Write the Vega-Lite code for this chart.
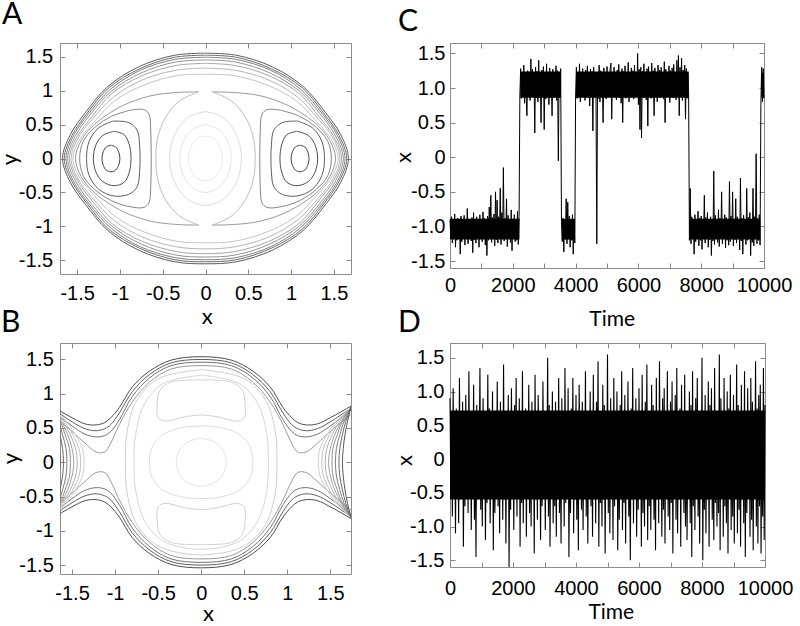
{
"$schema":"https://vega.github.io/schema/vega-lite/v6.json",
"autosize":{"type":"none"},
"padding":{"left":60,"top":43,"right":740,"bottom":583},
"background":"white",
"config":{
 "view":{"stroke":"#8c8c8c","strokeWidth":1},
 "axis":{"labelFont":"Liberation Sans","labelFontSize":20,"labelColor":"#000","tickColor":"#888","tickSize":-5,"tickWidth":1,"domain":false,"grid":false,"titleFont":"Lato","titleFontSize":22,"titleFontWeight":"normal","titleColor":"#000","titleBaseline":"alphabetic","labelFlush":false,"labelOverlap":false,"labelBound":false},
 "title":{"font":"Lato","fontSize":30,"fontWeight":"normal","anchor":"start","frame":"group","color":"#000"}
},
"datasets":{
"a":[
{"c":"k1","x":0,"y":1.55},{"c":"k1","x":-0.36,"y":1.52},{"c":"k1","x":-0.78,"y":1.35},{"c":"k1","x":-1.14,"y":1.06},{"c":"k1","x":-1.4,"y":0.68},{"c":"k1","x":-1.58,"y":0.35},{"c":"k1","x":-1.67,"y":0},{"c":"k1","x":-1.58,"y":-0.35},{"c":"k1","x":-1.4,"y":-0.68},{"c":"k1","x":-1.14,"y":-1.06},{"c":"k1","x":-0.78,"y":-1.35},{"c":"k1","x":-0.36,"y":-1.52},{"c":"k1","x":0,"y":-1.55},{"c":"k1","x":0.36,"y":-1.52},{"c":"k1","x":0.78,"y":-1.35},{"c":"k1","x":1.14,"y":-1.06},{"c":"k1","x":1.4,"y":-0.68},{"c":"k1","x":1.58,"y":-0.35},{"c":"k1","x":1.67,"y":0},{"c":"k1","x":1.58,"y":0.35},{"c":"k1","x":1.4,"y":0.68},{"c":"k1","x":1.14,"y":1.06},{"c":"k1","x":0.78,"y":1.35},{"c":"k1","x":0.36,"y":1.52},{"c":"k1","x":0,"y":1.55},
{"c":"k2","x":0,"y":1.52},{"c":"k2","x":-0.36,"y":1.49},{"c":"k2","x":-0.77,"y":1.32},{"c":"k2","x":-1.13,"y":1.04},{"c":"k2","x":-1.38,"y":0.67},{"c":"k2","x":-1.56,"y":0.34},{"c":"k2","x":-1.65,"y":0},{"c":"k2","x":-1.56,"y":-0.34},{"c":"k2","x":-1.38,"y":-0.67},{"c":"k2","x":-1.13,"y":-1.04},{"c":"k2","x":-0.77,"y":-1.32},{"c":"k2","x":-0.36,"y":-1.49},{"c":"k2","x":0,"y":-1.52},{"c":"k2","x":0.36,"y":-1.49},{"c":"k2","x":0.77,"y":-1.32},{"c":"k2","x":1.13,"y":-1.04},{"c":"k2","x":1.38,"y":-0.67},{"c":"k2","x":1.56,"y":-0.34},{"c":"k2","x":1.65,"y":0},{"c":"k2","x":1.56,"y":0.34},{"c":"k2","x":1.38,"y":0.67},{"c":"k2","x":1.13,"y":1.04},{"c":"k2","x":0.77,"y":1.32},{"c":"k2","x":0.36,"y":1.49},{"c":"k2","x":0,"y":1.52},
{"c":"k3","x":0,"y":1.49},{"c":"k3","x":-0.35,"y":1.46},{"c":"k3","x":-0.76,"y":1.3},{"c":"k3","x":-1.11,"y":1.02},{"c":"k3","x":-1.37,"y":0.65},{"c":"k3","x":-1.54,"y":0.34},{"c":"k3","x":-1.63,"y":0},{"c":"k3","x":-1.54,"y":-0.34},{"c":"k3","x":-1.37,"y":-0.65},{"c":"k3","x":-1.11,"y":-1.02},{"c":"k3","x":-0.76,"y":-1.3},{"c":"k3","x":-0.35,"y":-1.46},{"c":"k3","x":0,"y":-1.49},{"c":"k3","x":0.35,"y":-1.46},{"c":"k3","x":0.76,"y":-1.3},{"c":"k3","x":1.11,"y":-1.02},{"c":"k3","x":1.37,"y":-0.65},{"c":"k3","x":1.54,"y":-0.34},{"c":"k3","x":1.63,"y":0},{"c":"k3","x":1.54,"y":0.34},{"c":"k3","x":1.37,"y":0.65},{"c":"k3","x":1.11,"y":1.02},{"c":"k3","x":0.76,"y":1.3},{"c":"k3","x":0.35,"y":1.46},{"c":"k3","x":0,"y":1.49},
{"c":"k4","x":0,"y":1.45},{"c":"k4","x":-0.35,"y":1.42},{"c":"k4","x":-0.75,"y":1.26},{"c":"k4","x":-1.1,"y":0.99},{"c":"k4","x":-1.35,"y":0.64},{"c":"k4","x":-1.52,"y":0.33},{"c":"k4","x":-1.61,"y":0},{"c":"k4","x":-1.52,"y":-0.33},{"c":"k4","x":-1.35,"y":-0.64},{"c":"k4","x":-1.1,"y":-0.99},{"c":"k4","x":-0.75,"y":-1.26},{"c":"k4","x":-0.35,"y":-1.42},{"c":"k4","x":0,"y":-1.45},{"c":"k4","x":0.35,"y":-1.42},{"c":"k4","x":0.75,"y":-1.26},{"c":"k4","x":1.1,"y":-0.99},{"c":"k4","x":1.35,"y":-0.64},{"c":"k4","x":1.52,"y":-0.33},{"c":"k4","x":1.61,"y":0},{"c":"k4","x":1.52,"y":0.33},{"c":"k4","x":1.35,"y":0.64},{"c":"k4","x":1.1,"y":0.99},{"c":"k4","x":0.75,"y":1.26},{"c":"k4","x":0.35,"y":1.42},{"c":"k4","x":0,"y":1.45},
{"c":"k5","x":0,"y":1.4},{"c":"k5","x":-0.34,"y":1.37},{"c":"k5","x":-0.74,"y":1.22},{"c":"k5","x":-1.09,"y":0.96},{"c":"k5","x":-1.33,"y":0.61},{"c":"k5","x":-1.5,"y":0.32},{"c":"k5","x":-1.59,"y":0},{"c":"k5","x":-1.5,"y":-0.32},{"c":"k5","x":-1.33,"y":-0.61},{"c":"k5","x":-1.09,"y":-0.96},{"c":"k5","x":-0.74,"y":-1.22},{"c":"k5","x":-0.34,"y":-1.37},{"c":"k5","x":0,"y":-1.4},{"c":"k5","x":0.34,"y":-1.37},{"c":"k5","x":0.74,"y":-1.22},{"c":"k5","x":1.09,"y":-0.96},{"c":"k5","x":1.33,"y":-0.61},{"c":"k5","x":1.5,"y":-0.32},{"c":"k5","x":1.59,"y":0},{"c":"k5","x":1.5,"y":0.32},{"c":"k5","x":1.33,"y":0.61},{"c":"k5","x":1.09,"y":0.96},{"c":"k5","x":0.74,"y":1.22},{"c":"k5","x":0.34,"y":1.37},{"c":"k5","x":0,"y":1.4},
{"c":"k6","x":0,"y":1.33},{"c":"k6","x":-0.34,"y":1.3},{"c":"k6","x":-0.73,"y":1.16},{"c":"k6","x":-1.07,"y":0.91},{"c":"k6","x":-1.32,"y":0.58},{"c":"k6","x":-1.49,"y":0.3},{"c":"k6","x":-1.57,"y":0},{"c":"k6","x":-1.49,"y":-0.3},{"c":"k6","x":-1.32,"y":-0.58},{"c":"k6","x":-1.07,"y":-0.91},{"c":"k6","x":-0.73,"y":-1.16},{"c":"k6","x":-0.34,"y":-1.3},{"c":"k6","x":0,"y":-1.33},{"c":"k6","x":0.34,"y":-1.3},{"c":"k6","x":0.73,"y":-1.16},{"c":"k6","x":1.07,"y":-0.91},{"c":"k6","x":1.32,"y":-0.58},{"c":"k6","x":1.49,"y":-0.3},{"c":"k6","x":1.57,"y":0},{"c":"k6","x":1.49,"y":0.3},{"c":"k6","x":1.32,"y":0.58},{"c":"k6","x":1.07,"y":0.91},{"c":"k6","x":0.73,"y":1.16},{"c":"k6","x":0.34,"y":1.3},{"c":"k6","x":0,"y":1.33},
{"c":"k7","x":0,"y":1.24},{"c":"k7","x":-0.33,"y":1.22},{"c":"k7","x":-0.72,"y":1.08},{"c":"k7","x":-1.06,"y":0.85},{"c":"k7","x":-1.3,"y":0.54},{"c":"k7","x":-1.47,"y":0.28},{"c":"k7","x":-1.55,"y":0},{"c":"k7","x":-1.47,"y":-0.28},{"c":"k7","x":-1.3,"y":-0.54},{"c":"k7","x":-1.06,"y":-0.85},{"c":"k7","x":-0.72,"y":-1.08},{"c":"k7","x":-0.33,"y":-1.22},{"c":"k7","x":0,"y":-1.24},{"c":"k7","x":0.33,"y":-1.22},{"c":"k7","x":0.72,"y":-1.08},{"c":"k7","x":1.06,"y":-0.85},{"c":"k7","x":1.3,"y":-0.54},{"c":"k7","x":1.47,"y":-0.28},{"c":"k7","x":1.55,"y":0},{"c":"k7","x":1.47,"y":0.28},{"c":"k7","x":1.3,"y":0.54},{"c":"k7","x":1.06,"y":0.85},{"c":"k7","x":0.72,"y":1.08},{"c":"k7","x":0.33,"y":1.22},{"c":"k7","x":0,"y":1.24},
{"c":"sR","x":0.08,"y":0.98},{"c":"sR","x":0.35,"y":0.97},{"c":"sR","x":0.65,"y":0.92},{"c":"sR","x":0.98,"y":0.77},{"c":"sR","x":1.3,"y":0.5},{"c":"sR","x":1.45,"y":0.27},{"c":"sR","x":1.52,"y":0},{"c":"sR","x":1.45,"y":-0.27},{"c":"sR","x":1.3,"y":-0.5},{"c":"sR","x":0.98,"y":-0.77},{"c":"sR","x":0.65,"y":-0.92},{"c":"sR","x":0.35,"y":-0.97},{"c":"sR","x":0.08,"y":-0.98},
{"c":"sL","x":-0.08,"y":0.98},{"c":"sL","x":-0.35,"y":0.97},{"c":"sL","x":-0.65,"y":0.92},{"c":"sL","x":-0.98,"y":0.77},{"c":"sL","x":-1.3,"y":0.5},{"c":"sL","x":-1.45,"y":0.27},{"c":"sL","x":-1.52,"y":0},{"c":"sL","x":-1.45,"y":-0.27},{"c":"sL","x":-1.3,"y":-0.5},{"c":"sL","x":-0.98,"y":-0.77},{"c":"sL","x":-0.65,"y":-0.92},{"c":"sL","x":-0.35,"y":-0.97},{"c":"sL","x":-0.08,"y":-0.98},
{"c":"nR","x":0.08,"y":0.98},{"c":"nR","x":0.3,"y":0.85},{"c":"nR","x":0.47,"y":0.6},{"c":"nR","x":0.56,"y":0.3},{"c":"nR","x":0.58,"y":0},{"c":"nR","x":0.56,"y":-0.3},{"c":"nR","x":0.47,"y":-0.6},{"c":"nR","x":0.3,"y":-0.85},{"c":"nR","x":0.08,"y":-0.98},
{"c":"nL","x":-0.08,"y":0.98},{"c":"nL","x":-0.3,"y":0.85},{"c":"nL","x":-0.47,"y":0.6},{"c":"nL","x":-0.56,"y":0.3},{"c":"nL","x":-0.58,"y":0},{"c":"nL","x":-0.56,"y":-0.3},{"c":"nL","x":-0.47,"y":-0.6},{"c":"nL","x":-0.3,"y":-0.85},{"c":"nL","x":-0.08,"y":-0.98},
{"c":"e1","x":0,"y":0.69},{"c":"e1","x":-0.21,"y":0.6},{"c":"e1","x":-0.36,"y":0.35},{"c":"e1","x":-0.42,"y":0},{"c":"e1","x":-0.36,"y":-0.35},{"c":"e1","x":-0.21,"y":-0.6},{"c":"e1","x":0,"y":-0.69},{"c":"e1","x":0.21,"y":-0.6},{"c":"e1","x":0.36,"y":-0.35},{"c":"e1","x":0.42,"y":0},{"c":"e1","x":0.36,"y":0.35},{"c":"e1","x":0.21,"y":0.6},{"c":"e1","x":0,"y":0.69},
{"c":"e2","x":0,"y":0.5},{"c":"e2","x":-0.15,"y":0.43},{"c":"e2","x":-0.26,"y":0.25},{"c":"e2","x":-0.3,"y":0},{"c":"e2","x":-0.26,"y":-0.25},{"c":"e2","x":-0.15,"y":-0.43},{"c":"e2","x":0,"y":-0.5},{"c":"e2","x":0.15,"y":-0.43},{"c":"e2","x":0.26,"y":-0.25},{"c":"e2","x":0.3,"y":0},{"c":"e2","x":0.26,"y":0.25},{"c":"e2","x":0.15,"y":0.43},{"c":"e2","x":0,"y":0.5},
{"c":"e3","x":0,"y":0.33},{"c":"e3","x":-0.1,"y":0.29},{"c":"e3","x":-0.17,"y":0.17},{"c":"e3","x":-0.2,"y":0},{"c":"e3","x":-0.17,"y":-0.17},{"c":"e3","x":-0.1,"y":-0.29},{"c":"e3","x":0,"y":-0.33},{"c":"e3","x":0.1,"y":-0.29},{"c":"e3","x":0.17,"y":-0.17},{"c":"e3","x":0.2,"y":0},{"c":"e3","x":0.17,"y":0.17},{"c":"e3","x":0.1,"y":0.29},{"c":"e3","x":0,"y":0.33},
{"c":"w1R","x":1.105,"y":0.195},{"c":"w1R","x":1.05,"y":0.17},{"c":"w1R","x":1.015,"y":0.1},{"c":"w1R","x":1.0,"y":0},{"c":"w1R","x":1.015,"y":-0.1},{"c":"w1R","x":1.05,"y":-0.17},{"c":"w1R","x":1.105,"y":-0.195},{"c":"w1R","x":1.16,"y":-0.17},{"c":"w1R","x":1.195,"y":-0.1},{"c":"w1R","x":1.21,"y":0},{"c":"w1R","x":1.195,"y":0.1},{"c":"w1R","x":1.16,"y":0.17},{"c":"w1R","x":1.105,"y":0.195},
{"c":"w2R","x":1.07,"y":0.4},{"c":"w2R","x":0.95,"y":0.35},{"c":"w2R","x":0.89,"y":0.2},{"c":"w2R","x":0.87,"y":0},{"c":"w2R","x":0.89,"y":-0.2},{"c":"w2R","x":0.95,"y":-0.35},{"c":"w2R","x":1.07,"y":-0.4},{"c":"w2R","x":1.2,"y":-0.34},{"c":"w2R","x":1.28,"y":-0.2},{"c":"w2R","x":1.31,"y":0},{"c":"w2R","x":1.28,"y":0.2},{"c":"w2R","x":1.2,"y":0.34},{"c":"w2R","x":1.07,"y":0.4},
{"c":"w3R","x":1.08,"y":0.55},{"c":"w3R","x":0.9,"y":0.53},{"c":"w3R","x":0.8,"y":0.42},{"c":"w3R","x":0.77,"y":0.2},{"c":"w3R","x":0.77,"y":-0.2},{"c":"w3R","x":0.8,"y":-0.42},{"c":"w3R","x":0.9,"y":-0.53},{"c":"w3R","x":1.08,"y":-0.55},{"c":"w3R","x":1.25,"y":-0.45},{"c":"w3R","x":1.36,"y":-0.25},{"c":"w3R","x":1.39,"y":0},{"c":"w3R","x":1.36,"y":0.25},{"c":"w3R","x":1.25,"y":0.45},{"c":"w3R","x":1.08,"y":0.55},
{"c":"w4R","x":0.88,"y":0.71},{"c":"w4R","x":0.72,"y":0.72},{"c":"w4R","x":0.66,"y":0.65},{"c":"w4R","x":0.64,"y":0.4},{"c":"w4R","x":0.64,"y":-0.4},{"c":"w4R","x":0.66,"y":-0.65},{"c":"w4R","x":0.72,"y":-0.72},{"c":"w4R","x":0.88,"y":-0.71},{"c":"w4R","x":1.1,"y":-0.62},{"c":"w4R","x":1.3,"y":-0.45},{"c":"w4R","x":1.43,"y":-0.25},{"c":"w4R","x":1.47,"y":0},{"c":"w4R","x":1.43,"y":0.25},{"c":"w4R","x":1.3,"y":0.45},{"c":"w4R","x":1.1,"y":0.62},{"c":"w4R","x":0.88,"y":0.71},
{"c":"w1L","x":-1.105,"y":0.195},{"c":"w1L","x":-1.05,"y":0.17},{"c":"w1L","x":-1.015,"y":0.1},{"c":"w1L","x":-1.0,"y":0},{"c":"w1L","x":-1.015,"y":-0.1},{"c":"w1L","x":-1.05,"y":-0.17},{"c":"w1L","x":-1.105,"y":-0.195},{"c":"w1L","x":-1.16,"y":-0.17},{"c":"w1L","x":-1.195,"y":-0.1},{"c":"w1L","x":-1.21,"y":0},{"c":"w1L","x":-1.195,"y":0.1},{"c":"w1L","x":-1.16,"y":0.17},{"c":"w1L","x":-1.105,"y":0.195},
{"c":"w2L","x":-1.07,"y":0.4},{"c":"w2L","x":-0.95,"y":0.35},{"c":"w2L","x":-0.89,"y":0.2},{"c":"w2L","x":-0.87,"y":0},{"c":"w2L","x":-0.89,"y":-0.2},{"c":"w2L","x":-0.95,"y":-0.35},{"c":"w2L","x":-1.07,"y":-0.4},{"c":"w2L","x":-1.2,"y":-0.34},{"c":"w2L","x":-1.28,"y":-0.2},{"c":"w2L","x":-1.31,"y":0},{"c":"w2L","x":-1.28,"y":0.2},{"c":"w2L","x":-1.2,"y":0.34},{"c":"w2L","x":-1.07,"y":0.4},
{"c":"w3L","x":-1.08,"y":0.55},{"c":"w3L","x":-0.9,"y":0.53},{"c":"w3L","x":-0.8,"y":0.42},{"c":"w3L","x":-0.77,"y":0.2},{"c":"w3L","x":-0.77,"y":-0.2},{"c":"w3L","x":-0.8,"y":-0.42},{"c":"w3L","x":-0.9,"y":-0.53},{"c":"w3L","x":-1.08,"y":-0.55},{"c":"w3L","x":-1.25,"y":-0.45},{"c":"w3L","x":-1.36,"y":-0.25},{"c":"w3L","x":-1.39,"y":0},{"c":"w3L","x":-1.36,"y":0.25},{"c":"w3L","x":-1.25,"y":0.45},{"c":"w3L","x":-1.08,"y":0.55},
{"c":"w4L","x":-0.88,"y":0.71},{"c":"w4L","x":-0.72,"y":0.72},{"c":"w4L","x":-0.66,"y":0.65},{"c":"w4L","x":-0.64,"y":0.4},{"c":"w4L","x":-0.64,"y":-0.4},{"c":"w4L","x":-0.66,"y":-0.65},{"c":"w4L","x":-0.72,"y":-0.72},{"c":"w4L","x":-0.88,"y":-0.71},{"c":"w4L","x":-1.1,"y":-0.62},{"c":"w4L","x":-1.3,"y":-0.45},{"c":"w4L","x":-1.43,"y":-0.25},{"c":"w4L","x":-1.47,"y":0},{"c":"w4L","x":-1.43,"y":0.25},{"c":"w4L","x":-1.3,"y":0.45},{"c":"w4L","x":-1.1,"y":0.62},{"c":"w4L","x":-0.88,"y":0.71}
],
"b":[
{"c":"D1","x":-1.85,"y":0.9},{"c":"D1","x":-1.74,"y":0.82},{"c":"D1","x":-1.5,"y":0.65},{"c":"D1","x":-1.35,"y":0.56},{"c":"D1","x":-1.22,"y":0.545},{"c":"D1","x":-1.12,"y":0.58},{"c":"D1","x":-1.05,"y":0.65},{"c":"D1","x":-0.95,"y":0.8},{"c":"D1","x":-0.8,"y":1.1},{"c":"D1","x":-0.6,"y":1.33},{"c":"D1","x":-0.35,"y":1.49},{"c":"D1","x":0,"y":1.54},{"c":"D1","x":0.35,"y":1.49},{"c":"D1","x":0.6,"y":1.33},{"c":"D1","x":0.8,"y":1.1},{"c":"D1","x":0.95,"y":0.8},{"c":"D1","x":1.05,"y":0.65},{"c":"D1","x":1.12,"y":0.58},{"c":"D1","x":1.22,"y":0.545},{"c":"D1","x":1.35,"y":0.56},{"c":"D1","x":1.5,"y":0.65},{"c":"D1","x":1.74,"y":0.82},{"c":"D1","x":1.85,"y":0.9},
{"c":"D2","x":-1.85,"y":0.87},{"c":"D2","x":-1.74,"y":0.79},{"c":"D2","x":-1.5,"y":0.59},{"c":"D2","x":-1.35,"y":0.49},{"c":"D2","x":-1.22,"y":0.46},{"c":"D2","x":-1.12,"y":0.49},{"c":"D2","x":-1.05,"y":0.55},{"c":"D2","x":-0.95,"y":0.72},{"c":"D2","x":-0.8,"y":1.03},{"c":"D2","x":-0.6,"y":1.28},{"c":"D2","x":-0.35,"y":1.45},{"c":"D2","x":0,"y":1.5},{"c":"D2","x":0.35,"y":1.45},{"c":"D2","x":0.6,"y":1.28},{"c":"D2","x":0.8,"y":1.03},{"c":"D2","x":0.95,"y":0.72},{"c":"D2","x":1.05,"y":0.55},{"c":"D2","x":1.12,"y":0.49},{"c":"D2","x":1.22,"y":0.46},{"c":"D2","x":1.35,"y":0.49},{"c":"D2","x":1.5,"y":0.59},{"c":"D2","x":1.74,"y":0.79},{"c":"D2","x":1.85,"y":0.87},
{"c":"D3","x":-1.85,"y":0.85},{"c":"D3","x":-1.74,"y":0.76},{"c":"D3","x":-1.5,"y":0.53},{"c":"D3","x":-1.35,"y":0.41},{"c":"D3","x":-1.22,"y":0.37},{"c":"D3","x":-1.12,"y":0.39},{"c":"D3","x":-1.05,"y":0.45},{"c":"D3","x":-0.95,"y":0.62},{"c":"D3","x":-0.8,"y":0.96},{"c":"D3","x":-0.6,"y":1.23},{"c":"D3","x":-0.35,"y":1.41},{"c":"D3","x":0,"y":1.46},{"c":"D3","x":0.35,"y":1.41},{"c":"D3","x":0.6,"y":1.23},{"c":"D3","x":0.8,"y":0.96},{"c":"D3","x":0.95,"y":0.62},{"c":"D3","x":1.05,"y":0.45},{"c":"D3","x":1.12,"y":0.39},{"c":"D3","x":1.22,"y":0.37},{"c":"D3","x":1.35,"y":0.41},{"c":"D3","x":1.5,"y":0.53},{"c":"D3","x":1.74,"y":0.76},{"c":"D3","x":1.85,"y":0.85},
{"c":"D4","x":-1.85,"y":0.82},{"c":"D4","x":-1.74,"y":0.7},{"c":"D4","x":-1.5,"y":0.45},{"c":"D4","x":-1.35,"y":0.28},{"c":"D4","x":-1.22,"y":0.15},{"c":"D4","x":-1.12,"y":0.15},{"c":"D4","x":-1.05,"y":0.28},{"c":"D4","x":-0.95,"y":0.55},{"c":"D4","x":-0.8,"y":0.88},{"c":"D4","x":-0.6,"y":1.17},{"c":"D4","x":-0.35,"y":1.36},{"c":"D4","x":0,"y":1.41},{"c":"D4","x":0.35,"y":1.36},{"c":"D4","x":0.6,"y":1.17},{"c":"D4","x":0.8,"y":0.88},{"c":"D4","x":0.95,"y":0.55},{"c":"D4","x":1.05,"y":0.28},{"c":"D4","x":1.12,"y":0.15},{"c":"D4","x":1.22,"y":0.15},{"c":"D4","x":1.35,"y":0.28},{"c":"D4","x":1.5,"y":0.45},{"c":"D4","x":1.74,"y":0.7},{"c":"D4","x":1.85,"y":0.82},
{"c":"D1b","x":-1.85,"y":-0.9},{"c":"D1b","x":-1.74,"y":-0.82},{"c":"D1b","x":-1.5,"y":-0.65},{"c":"D1b","x":-1.35,"y":-0.56},{"c":"D1b","x":-1.22,"y":-0.545},{"c":"D1b","x":-1.12,"y":-0.58},{"c":"D1b","x":-1.05,"y":-0.65},{"c":"D1b","x":-0.95,"y":-0.8},{"c":"D1b","x":-0.8,"y":-1.1},{"c":"D1b","x":-0.6,"y":-1.33},{"c":"D1b","x":-0.35,"y":-1.49},{"c":"D1b","x":0,"y":-1.54},{"c":"D1b","x":0.35,"y":-1.49},{"c":"D1b","x":0.6,"y":-1.33},{"c":"D1b","x":0.8,"y":-1.1},{"c":"D1b","x":0.95,"y":-0.8},{"c":"D1b","x":1.05,"y":-0.65},{"c":"D1b","x":1.12,"y":-0.58},{"c":"D1b","x":1.22,"y":-0.545},{"c":"D1b","x":1.35,"y":-0.56},{"c":"D1b","x":1.5,"y":-0.65},{"c":"D1b","x":1.74,"y":-0.82},{"c":"D1b","x":1.85,"y":-0.9},
{"c":"D2b","x":-1.85,"y":-0.87},{"c":"D2b","x":-1.74,"y":-0.79},{"c":"D2b","x":-1.5,"y":-0.59},{"c":"D2b","x":-1.35,"y":-0.49},{"c":"D2b","x":-1.22,"y":-0.46},{"c":"D2b","x":-1.12,"y":-0.49},{"c":"D2b","x":-1.05,"y":-0.55},{"c":"D2b","x":-0.95,"y":-0.72},{"c":"D2b","x":-0.8,"y":-1.03},{"c":"D2b","x":-0.6,"y":-1.28},{"c":"D2b","x":-0.35,"y":-1.45},{"c":"D2b","x":0,"y":-1.5},{"c":"D2b","x":0.35,"y":-1.45},{"c":"D2b","x":0.6,"y":-1.28},{"c":"D2b","x":0.8,"y":-1.03},{"c":"D2b","x":0.95,"y":-0.72},{"c":"D2b","x":1.05,"y":-0.55},{"c":"D2b","x":1.12,"y":-0.49},{"c":"D2b","x":1.22,"y":-0.46},{"c":"D2b","x":1.35,"y":-0.49},{"c":"D2b","x":1.5,"y":-0.59},{"c":"D2b","x":1.74,"y":-0.79},{"c":"D2b","x":1.85,"y":-0.87},
{"c":"D3b","x":-1.85,"y":-0.85},{"c":"D3b","x":-1.74,"y":-0.76},{"c":"D3b","x":-1.5,"y":-0.53},{"c":"D3b","x":-1.35,"y":-0.41},{"c":"D3b","x":-1.22,"y":-0.37},{"c":"D3b","x":-1.12,"y":-0.39},{"c":"D3b","x":-1.05,"y":-0.45},{"c":"D3b","x":-0.95,"y":-0.62},{"c":"D3b","x":-0.8,"y":-0.96},{"c":"D3b","x":-0.6,"y":-1.23},{"c":"D3b","x":-0.35,"y":-1.41},{"c":"D3b","x":0,"y":-1.46},{"c":"D3b","x":0.35,"y":-1.41},{"c":"D3b","x":0.6,"y":-1.23},{"c":"D3b","x":0.8,"y":-0.96},{"c":"D3b","x":0.95,"y":-0.62},{"c":"D3b","x":1.05,"y":-0.45},{"c":"D3b","x":1.12,"y":-0.39},{"c":"D3b","x":1.22,"y":-0.37},{"c":"D3b","x":1.35,"y":-0.41},{"c":"D3b","x":1.5,"y":-0.53},{"c":"D3b","x":1.74,"y":-0.76},{"c":"D3b","x":1.85,"y":-0.85},
{"c":"D4b","x":-1.85,"y":-0.82},{"c":"D4b","x":-1.74,"y":-0.7},{"c":"D4b","x":-1.5,"y":-0.45},{"c":"D4b","x":-1.35,"y":-0.28},{"c":"D4b","x":-1.22,"y":-0.15},{"c":"D4b","x":-1.12,"y":-0.15},{"c":"D4b","x":-1.05,"y":-0.28},{"c":"D4b","x":-0.95,"y":-0.55},{"c":"D4b","x":-0.8,"y":-0.88},{"c":"D4b","x":-0.6,"y":-1.17},{"c":"D4b","x":-0.35,"y":-1.36},{"c":"D4b","x":0,"y":-1.41},{"c":"D4b","x":0.35,"y":-1.36},{"c":"D4b","x":0.6,"y":-1.17},{"c":"D4b","x":0.8,"y":-0.88},{"c":"D4b","x":0.95,"y":-0.55},{"c":"D4b","x":1.05,"y":-0.28},{"c":"D4b","x":1.12,"y":-0.15},{"c":"D4b","x":1.22,"y":-0.15},{"c":"D4b","x":1.35,"y":-0.28},{"c":"D4b","x":1.5,"y":-0.45},{"c":"D4b","x":1.74,"y":-0.7},{"c":"D4b","x":1.85,"y":-0.82},
{"c":"r1","x":1.9,"y":0.95},{"c":"r1","x":1.74,"y":0.8},{"c":"r1","x":1.57,"y":0.6},{"c":"r1","x":1.46,"y":0.4},{"c":"r1","x":1.38,"y":0.2},{"c":"r1","x":1.36,"y":0},{"c":"r1","x":1.38,"y":-0.2},{"c":"r1","x":1.46,"y":-0.4},{"c":"r1","x":1.57,"y":-0.6},{"c":"r1","x":1.74,"y":-0.8},{"c":"r1","x":1.9,"y":-0.95},
{"c":"r2","x":1.88,"y":0.95},{"c":"r2","x":1.74,"y":0.8},{"c":"r2","x":1.59,"y":0.6},{"c":"r2","x":1.49,"y":0.4},{"c":"r2","x":1.42,"y":0.2},{"c":"r2","x":1.4,"y":0},{"c":"r2","x":1.42,"y":-0.2},{"c":"r2","x":1.49,"y":-0.4},{"c":"r2","x":1.59,"y":-0.6},{"c":"r2","x":1.74,"y":-0.8},{"c":"r2","x":1.88,"y":-0.95},
{"c":"r3","x":1.86,"y":0.95},{"c":"r3","x":1.74,"y":0.8},{"c":"r3","x":1.61,"y":0.6},{"c":"r3","x":1.52,"y":0.4},{"c":"r3","x":1.46,"y":0.2},{"c":"r3","x":1.44,"y":0},{"c":"r3","x":1.46,"y":-0.2},{"c":"r3","x":1.52,"y":-0.4},{"c":"r3","x":1.61,"y":-0.6},{"c":"r3","x":1.74,"y":-0.8},{"c":"r3","x":1.86,"y":-0.95},
{"c":"r4","x":1.85,"y":0.95},{"c":"r4","x":1.74,"y":0.8},{"c":"r4","x":1.63,"y":0.6},{"c":"r4","x":1.55,"y":0.4},{"c":"r4","x":1.5,"y":0.2},{"c":"r4","x":1.48,"y":0},{"c":"r4","x":1.5,"y":-0.2},{"c":"r4","x":1.55,"y":-0.4},{"c":"r4","x":1.63,"y":-0.6},{"c":"r4","x":1.74,"y":-0.8},{"c":"r4","x":1.85,"y":-0.95},
{"c":"r5","x":1.83,"y":0.95},{"c":"r5","x":1.74,"y":0.8},{"c":"r5","x":1.64,"y":0.6},{"c":"r5","x":1.58,"y":0.4},{"c":"r5","x":1.53,"y":0.2},{"c":"r5","x":1.52,"y":0},{"c":"r5","x":1.53,"y":-0.2},{"c":"r5","x":1.58,"y":-0.4},{"c":"r5","x":1.64,"y":-0.6},{"c":"r5","x":1.74,"y":-0.8},{"c":"r5","x":1.83,"y":-0.95},
{"c":"r6","x":1.81,"y":0.95},{"c":"r6","x":1.74,"y":0.8},{"c":"r6","x":1.66,"y":0.6},{"c":"r6","x":1.61,"y":0.4},{"c":"r6","x":1.57,"y":0.2},{"c":"r6","x":1.56,"y":0},{"c":"r6","x":1.57,"y":-0.2},{"c":"r6","x":1.61,"y":-0.4},{"c":"r6","x":1.66,"y":-0.6},{"c":"r6","x":1.74,"y":-0.8},{"c":"r6","x":1.81,"y":-0.95},
{"c":"r7","x":1.8,"y":0.95},{"c":"r7","x":1.74,"y":0.8},{"c":"r7","x":1.68,"y":0.6},{"c":"r7","x":1.64,"y":0.4},{"c":"r7","x":1.61,"y":0.2},{"c":"r7","x":1.6,"y":0},{"c":"r7","x":1.61,"y":-0.2},{"c":"r7","x":1.64,"y":-0.4},{"c":"r7","x":1.68,"y":-0.6},{"c":"r7","x":1.74,"y":-0.8},{"c":"r7","x":1.8,"y":-0.95},
{"c":"r8","x":1.78,"y":0.95},{"c":"r8","x":1.74,"y":0.8},{"c":"r8","x":1.7,"y":0.6},{"c":"r8","x":1.67,"y":0.4},{"c":"r8","x":1.65,"y":0.2},{"c":"r8","x":1.64,"y":0},{"c":"r8","x":1.65,"y":-0.2},{"c":"r8","x":1.67,"y":-0.4},{"c":"r8","x":1.7,"y":-0.6},{"c":"r8","x":1.74,"y":-0.8},{"c":"r8","x":1.78,"y":-0.95},
{"c":"l1","x":-1.9,"y":0.95},{"c":"l1","x":-1.74,"y":0.8},{"c":"l1","x":-1.57,"y":0.6},{"c":"l1","x":-1.46,"y":0.4},{"c":"l1","x":-1.38,"y":0.2},{"c":"l1","x":-1.36,"y":0},{"c":"l1","x":-1.38,"y":-0.2},{"c":"l1","x":-1.46,"y":-0.4},{"c":"l1","x":-1.57,"y":-0.6},{"c":"l1","x":-1.74,"y":-0.8},{"c":"l1","x":-1.9,"y":-0.95},
{"c":"l2","x":-1.88,"y":0.95},{"c":"l2","x":-1.74,"y":0.8},{"c":"l2","x":-1.59,"y":0.6},{"c":"l2","x":-1.49,"y":0.4},{"c":"l2","x":-1.42,"y":0.2},{"c":"l2","x":-1.4,"y":0},{"c":"l2","x":-1.42,"y":-0.2},{"c":"l2","x":-1.49,"y":-0.4},{"c":"l2","x":-1.59,"y":-0.6},{"c":"l2","x":-1.74,"y":-0.8},{"c":"l2","x":-1.88,"y":-0.95},
{"c":"l3","x":-1.86,"y":0.95},{"c":"l3","x":-1.74,"y":0.8},{"c":"l3","x":-1.61,"y":0.6},{"c":"l3","x":-1.52,"y":0.4},{"c":"l3","x":-1.46,"y":0.2},{"c":"l3","x":-1.44,"y":0},{"c":"l3","x":-1.46,"y":-0.2},{"c":"l3","x":-1.52,"y":-0.4},{"c":"l3","x":-1.61,"y":-0.6},{"c":"l3","x":-1.74,"y":-0.8},{"c":"l3","x":-1.86,"y":-0.95},
{"c":"l4","x":-1.85,"y":0.95},{"c":"l4","x":-1.74,"y":0.8},{"c":"l4","x":-1.63,"y":0.6},{"c":"l4","x":-1.55,"y":0.4},{"c":"l4","x":-1.5,"y":0.2},{"c":"l4","x":-1.48,"y":0},{"c":"l4","x":-1.5,"y":-0.2},{"c":"l4","x":-1.55,"y":-0.4},{"c":"l4","x":-1.63,"y":-0.6},{"c":"l4","x":-1.74,"y":-0.8},{"c":"l4","x":-1.85,"y":-0.95},
{"c":"l5","x":-1.83,"y":0.95},{"c":"l5","x":-1.74,"y":0.8},{"c":"l5","x":-1.64,"y":0.6},{"c":"l5","x":-1.58,"y":0.4},{"c":"l5","x":-1.53,"y":0.2},{"c":"l5","x":-1.52,"y":0},{"c":"l5","x":-1.53,"y":-0.2},{"c":"l5","x":-1.58,"y":-0.4},{"c":"l5","x":-1.64,"y":-0.6},{"c":"l5","x":-1.74,"y":-0.8},{"c":"l5","x":-1.83,"y":-0.95},
{"c":"l6","x":-1.81,"y":0.95},{"c":"l6","x":-1.74,"y":0.8},{"c":"l6","x":-1.66,"y":0.6},{"c":"l6","x":-1.61,"y":0.4},{"c":"l6","x":-1.57,"y":0.2},{"c":"l6","x":-1.56,"y":0},{"c":"l6","x":-1.57,"y":-0.2},{"c":"l6","x":-1.61,"y":-0.4},{"c":"l6","x":-1.66,"y":-0.6},{"c":"l6","x":-1.74,"y":-0.8},{"c":"l6","x":-1.81,"y":-0.95},
{"c":"l7","x":-1.8,"y":0.95},{"c":"l7","x":-1.74,"y":0.8},{"c":"l7","x":-1.68,"y":0.6},{"c":"l7","x":-1.64,"y":0.4},{"c":"l7","x":-1.61,"y":0.2},{"c":"l7","x":-1.6,"y":0},{"c":"l7","x":-1.61,"y":-0.2},{"c":"l7","x":-1.64,"y":-0.4},{"c":"l7","x":-1.68,"y":-0.6},{"c":"l7","x":-1.74,"y":-0.8},{"c":"l7","x":-1.8,"y":-0.95},
{"c":"l8","x":-1.78,"y":0.95},{"c":"l8","x":-1.74,"y":0.8},{"c":"l8","x":-1.7,"y":0.6},{"c":"l8","x":-1.67,"y":0.4},{"c":"l8","x":-1.65,"y":0.2},{"c":"l8","x":-1.64,"y":0},{"c":"l8","x":-1.65,"y":-0.2},{"c":"l8","x":-1.67,"y":-0.4},{"c":"l8","x":-1.7,"y":-0.6},{"c":"l8","x":-1.74,"y":-0.8},{"c":"l8","x":-1.78,"y":-0.95},
{"c":"C1","x":0,"y":1.35},{"c":"C1","x":-0.5,"y":1.22},{"c":"C1","x":-0.75,"y":0.9},{"c":"C1","x":-0.86,"y":0.45},{"c":"C1","x":-0.88,"y":0},{"c":"C1","x":-0.86,"y":-0.45},{"c":"C1","x":-0.75,"y":-0.9},{"c":"C1","x":-0.5,"y":-1.22},{"c":"C1","x":0,"y":-1.35},{"c":"C1","x":0.5,"y":-1.22},{"c":"C1","x":0.75,"y":-0.9},{"c":"C1","x":0.86,"y":-0.45},{"c":"C1","x":0.88,"y":0},{"c":"C1","x":0.86,"y":0.45},{"c":"C1","x":0.75,"y":0.9},{"c":"C1","x":0.5,"y":1.22},{"c":"C1","x":0,"y":1.35},
{"c":"C2","x":0,"y":1.27},{"c":"C2","x":-0.44,"y":1.15},{"c":"C2","x":-0.66,"y":0.85},{"c":"C2","x":-0.76,"y":0.42},{"c":"C2","x":-0.78,"y":0},{"c":"C2","x":-0.76,"y":-0.42},{"c":"C2","x":-0.66,"y":-0.85},{"c":"C2","x":-0.44,"y":-1.15},{"c":"C2","x":0,"y":-1.27},{"c":"C2","x":0.44,"y":-1.15},{"c":"C2","x":0.66,"y":-0.85},{"c":"C2","x":0.76,"y":-0.42},{"c":"C2","x":0.78,"y":0},{"c":"C2","x":0.76,"y":0.42},{"c":"C2","x":0.66,"y":0.85},{"c":"C2","x":0.44,"y":1.15},{"c":"C2","x":0,"y":1.27},
{"c":"K1","x":0,"y":1.2},{"c":"K1","x":-0.35,"y":1.17},{"c":"K1","x":-0.48,"y":1.05},{"c":"K1","x":-0.51,"y":0.85},{"c":"K1","x":-0.5,"y":0.65},{"c":"K1","x":-0.42,"y":0.6},{"c":"K1","x":-0.2,"y":0.66},{"c":"K1","x":0,"y":0.69},{"c":"K1","x":0.2,"y":0.66},{"c":"K1","x":0.42,"y":0.6},{"c":"K1","x":0.5,"y":0.65},{"c":"K1","x":0.51,"y":0.85},{"c":"K1","x":0.48,"y":1.05},{"c":"K1","x":0.35,"y":1.17},{"c":"K1","x":0,"y":1.2},
{"c":"K2","x":0,"y":-1.2},{"c":"K2","x":-0.35,"y":-1.17},{"c":"K2","x":-0.48,"y":-1.05},{"c":"K2","x":-0.51,"y":-0.85},{"c":"K2","x":-0.5,"y":-0.65},{"c":"K2","x":-0.42,"y":-0.6},{"c":"K2","x":-0.2,"y":-0.66},{"c":"K2","x":0,"y":-0.69},{"c":"K2","x":0.2,"y":-0.66},{"c":"K2","x":0.42,"y":-0.6},{"c":"K2","x":0.5,"y":-0.65},{"c":"K2","x":0.51,"y":-0.85},{"c":"K2","x":0.48,"y":-1.05},{"c":"K2","x":0.35,"y":-1.17},{"c":"K2","x":0,"y":-1.2},
{"c":"E","x":0,"y":0.53},{"c":"E","x":-0.25,"y":0.5},{"c":"E","x":-0.45,"y":0.4},{"c":"E","x":-0.57,"y":0.22},{"c":"E","x":-0.6,"y":0},{"c":"E","x":-0.57,"y":-0.22},{"c":"E","x":-0.45,"y":-0.4},{"c":"E","x":-0.25,"y":-0.5},{"c":"E","x":0,"y":-0.53},{"c":"E","x":0.25,"y":-0.5},{"c":"E","x":0.45,"y":-0.4},{"c":"E","x":0.57,"y":-0.22},{"c":"E","x":0.6,"y":0},{"c":"E","x":0.57,"y":0.22},{"c":"E","x":0.45,"y":0.4},{"c":"E","x":0.25,"y":0.5},{"c":"E","x":0,"y":0.53},
{"c":"O","x":0,"y":0.35},{"c":"O","x":-0.15,"y":0.3},{"c":"O","x":-0.25,"y":0.18},{"c":"O","x":-0.29,"y":0},{"c":"O","x":-0.25,"y":-0.18},{"c":"O","x":-0.15,"y":-0.3},{"c":"O","x":0,"y":-0.35},{"c":"O","x":0.15,"y":-0.3},{"c":"O","x":0.25,"y":-0.18},{"c":"O","x":0.29,"y":0},{"c":"O","x":0.25,"y":0.18},{"c":"O","x":0.15,"y":0.3},{"c":"O","x":0,"y":0.35}
],
"cc":[
{"t":0,"t2":2212,"v":-1.19,"v2":-0.89},
{"t":2237,"t2":3532,"v":0.86,"v2":1.24},
{"t":3562,"t2":3982,"v":-1.19,"v2":-0.89},
{"t":4012,"t2":7602,"v":0.86,"v2":1.24},
{"t":7637,"t2":9882,"v":-1.19,"v2":-0.89},
{"t":9912,"t2":10000,"v":0.86,"v2":1.22}
],
"dc":[
{"t":0,"t2":10000,"v":-0.6,"v2":0.72}
],
"c":[
{"t":0,"v":-0.9},{"t":25,"v":-1.18},{"t":50,"v":-0.86},{"t":75,"v":-1.24},{"t":100,"v":-0.93},{"t":125,"v":-1.12},{"t":150,"v":-0.82},{"t":175,"v":-1.3},{"t":200,"v":-0.95},{"t":225,"v":-1.2},
{"t":250,"v":-0.88},{"t":275,"v":-1.15},{"t":300,"v":-0.91},{"t":325,"v":-1.4},{"t":350,"v":-0.85},{"t":375,"v":-1.22},{"t":400,"v":-0.97},{"t":425,"v":-1.1},{"t":450,"v":-0.84},{"t":475,"v":-1.27},
{"t":500,"v":-0.9},{"t":525,"v":-1.17},{"t":550,"v":-0.74},{"t":575,"v":-1.25},{"t":600,"v":-0.89},{"t":625,"v":-1.14},{"t":650,"v":-0.92},{"t":675,"v":-1.21},{"t":700,"v":-0.87},{"t":725,"v":-1.38},
{"t":750,"v":-0.8},{"t":775,"v":-1.19},{"t":800,"v":-0.93},{"t":825,"v":-1.24},{"t":850,"v":-0.86},{"t":875,"v":-1.12},{"t":900,"v":-0.9},{"t":925,"v":-1.3},{"t":950,"v":-0.83},{"t":975,"v":-1.18},
{"t":1000,"v":-0.95},{"t":1025,"v":-1.22},{"t":1050,"v":-0.79},{"t":1075,"v":-1.15},{"t":1100,"v":-0.88},{"t":1125,"v":-1.27},{"t":1150,"v":-0.91},{"t":1175,"v":-1.42},{"t":1200,"v":-0.85},{"t":1225,"v":-1.2},
{"t":1250,"v":-0.72},{"t":1275,"v":-1.16},{"t":1300,"v":-0.55},{"t":1325,"v":-1.23},{"t":1350,"v":-0.87},{"t":1375,"v":-1.13},{"t":1400,"v":-0.82},{"t":1425,"v":-1.28},{"t":1450,"v":-0.5},{"t":1475,"v":-1.19},
{"t":1500,"v":-0.62},{"t":1525,"v":-1.24},{"t":1550,"v":-0.86},{"t":1575,"v":-1.11},{"t":1600,"v":-0.45},{"t":1625,"v":-1.26},{"t":1650,"v":-0.8},{"t":1675,"v":-1.17},{"t":1700,"v":-0.15},{"t":1725,"v":-1.21},
{"t":1750,"v":-0.88},{"t":1775,"v":-1.14},{"t":1800,"v":-0.6},{"t":1825,"v":-1.29},{"t":1850,"v":-0.84},{"t":1875,"v":-1.18},{"t":1900,"v":-0.9},{"t":1925,"v":-1.23},{"t":1950,"v":-0.76},{"t":1975,"v":-1.35},
{"t":2000,"v":-0.89},{"t":2025,"v":-1.16},{"t":2050,"v":-0.83},{"t":2075,"v":-1.22},{"t":2100,"v":-0.92},{"t":2125,"v":-1.2},{"t":2150,"v":-0.78},{"t":2175,"v":-1.26},{"t":2200,"v":-0.86},{"t":2225,"v":0.9},
{"t":2250,"v":1.28},{"t":2275,"v":0.85},{"t":2300,"v":1.22},{"t":2325,"v":0.93},{"t":2350,"v":1.33},{"t":2375,"v":0.78},{"t":2400,"v":1.2},{"t":2425,"v":0.88},{"t":2450,"v":0.6},{"t":2475,"v":1.25},
{"t":2500,"v":0.9},{"t":2525,"v":1.16},{"t":2550,"v":0.82},{"t":2575,"v":1.42},{"t":2600,"v":0.87},{"t":2625,"v":1.27},{"t":2650,"v":0.92},{"t":2675,"v":1.21},{"t":2700,"v":0.35},{"t":2725,"v":1.3},
{"t":2750,"v":0.86},{"t":2775,"v":1.24},{"t":2800,"v":0.8},{"t":2825,"v":1.4},{"t":2850,"v":0.9},{"t":2875,"v":1.19},{"t":2900,"v":0.5},{"t":2925,"v":1.26},{"t":2950,"v":0.89},{"t":2975,"v":1.31},
{"t":3000,"v":0.4},{"t":3025,"v":1.22},{"t":3050,"v":0.84},{"t":3075,"v":1.35},{"t":3100,"v":0.91},{"t":3125,"v":1.18},{"t":3150,"v":0.76},{"t":3175,"v":1.29},{"t":3200,"v":0.88},{"t":3225,"v":1.23},
{"t":3250,"v":0.6},{"t":3275,"v":1.27},{"t":3300,"v":0.86},{"t":3325,"v":1.2},{"t":3350,"v":0.93},{"t":3375,"v":1.32},{"t":3400,"v":0.82},{"t":3425,"v":1.25},{"t":3450,"v":-0.05},{"t":3475,"v":1.22},
{"t":3500,"v":0.87},{"t":3525,"v":1.28},{"t":3550,"v":-0.95},{"t":3575,"v":-1.22},{"t":3600,"v":-0.88},{"t":3625,"v":-1.37},{"t":3650,"v":-0.9},{"t":3675,"v":-1.18},{"t":3700,"v":-0.6},{"t":3725,"v":-1.25},
{"t":3750,"v":-0.65},{"t":3775,"v":-1.15},{"t":3800,"v":-0.85},{"t":3825,"v":-1.3},{"t":3850,"v":-0.92},{"t":3875,"v":-1.2},{"t":3900,"v":-0.83},{"t":3925,"v":-1.4},{"t":3950,"v":-0.89},{"t":3975,"v":-1.24},
{"t":4000,"v":0.9},{"t":4025,"v":1.3},{"t":4050,"v":0.85},{"t":4075,"v":1.22},{"t":4100,"v":0.92},{"t":4125,"v":1.35},{"t":4150,"v":0.8},{"t":4175,"v":1.18},{"t":4200,"v":0.88},{"t":4225,"v":1.28},
{"t":4250,"v":0.9},{"t":4275,"v":1.21},{"t":4300,"v":0.82},{"t":4325,"v":1.26},{"t":4350,"v":0.93},{"t":4375,"v":1.32},{"t":4400,"v":0.86},{"t":4425,"v":1.2},{"t":4450,"v":0.74},{"t":4475,"v":1.27},
{"t":4500,"v":0.91},{"t":4525,"v":1.24},{"t":4550,"v":0.38},{"t":4575,"v":1.3},{"t":4600,"v":0.87},{"t":4625,"v":1.19},{"t":4650,"v":0.9},{"t":4675,"v":-1.25},{"t":4700,"v":1.22},{"t":4725,"v":0.85},
{"t":4750,"v":1.33},{"t":4775,"v":0.8},{"t":4800,"v":1.25},{"t":4825,"v":0.89},{"t":4850,"v":1.2},{"t":4875,"v":0.5},{"t":4900,"v":1.29},{"t":4925,"v":0.92},{"t":4950,"v":1.23},{"t":4975,"v":0.84},
{"t":5000,"v":1.31},{"t":5025,"v":0.88},{"t":5050,"v":1.18},{"t":5075,"v":0.91},{"t":5100,"v":1.27},{"t":5125,"v":1.36},{"t":5150,"v":0.55},{"t":5175,"v":1.22},{"t":5200,"v":0.87},{"t":5225,"v":1.3},
{"t":5250,"v":0.9},{"t":5275,"v":1.19},{"t":5300,"v":0.83},{"t":5325,"v":1.26},{"t":5350,"v":0.93},{"t":5375,"v":1.34},{"t":5400,"v":0.86},{"t":5425,"v":1.21},{"t":5450,"v":0.78},{"t":5475,"v":1.28},
{"t":5500,"v":0.5},{"t":5525,"v":1.24},{"t":5550,"v":0.89},{"t":5575,"v":1.32},{"t":5600,"v":0.85},{"t":5625,"v":1.2},{"t":5650,"v":0.92},{"t":5675,"v":1.37},{"t":5700,"v":0.8},{"t":5725,"v":1.23},
{"t":5750,"v":0.88},{"t":5775,"v":1.29},{"t":5800,"v":0.91},{"t":5825,"v":1.25},{"t":5850,"v":0.84},{"t":5875,"v":1.33},{"t":5900,"v":0.87},{"t":5925,"v":1.21},{"t":5950,"v":0.9},{"t":5975,"v":1.5},
{"t":6000,"v":0.76},{"t":6025,"v":1.27},{"t":6050,"v":0.4},{"t":6075,"v":1.3},{"t":6100,"v":0.28},{"t":6125,"v":1.24},{"t":6150,"v":0.86},{"t":6175,"v":1.35},{"t":6200,"v":0.89},{"t":6225,"v":1.2},
{"t":6250,"v":0.83},{"t":6275,"v":1.28},{"t":6300,"v":0.45},{"t":6325,"v":1.31},{"t":6350,"v":0.9},{"t":6375,"v":1.22},{"t":6400,"v":0.85},{"t":6425,"v":1.36},{"t":6450,"v":0.92},{"t":6475,"v":1.25},
{"t":6500,"v":0.6},{"t":6525,"v":1.29},{"t":6550,"v":0.88},{"t":6575,"v":1.21},{"t":6600,"v":0.8},{"t":6625,"v":1.33},{"t":6650,"v":0.91},{"t":6675,"v":1.26},{"t":6700,"v":0.86},{"t":6725,"v":1.3},
{"t":6750,"v":0.89},{"t":6775,"v":1.23},{"t":6800,"v":0.84},{"t":6825,"v":1.38},{"t":6850,"v":0.5},{"t":6875,"v":1.27},{"t":6900,"v":0.9},{"t":6925,"v":1.2},{"t":6950,"v":0.87},{"t":6975,"v":1.32},
{"t":7000,"v":0.79},{"t":7025,"v":1.25},{"t":7050,"v":0.92},{"t":7075,"v":1.29},{"t":7100,"v":0.86},{"t":7125,"v":1.34},{"t":7150,"v":0.89},{"t":7175,"v":1.22},{"t":7200,"v":0.83},{"t":7225,"v":1.4},
{"t":7250,"v":0.88},{"t":7275,"v":1.47},{"t":7300,"v":0.6},{"t":7325,"v":1.3},{"t":7350,"v":0.87},{"t":7375,"v":1.43},{"t":7400,"v":0.82},{"t":7425,"v":1.26},{"t":7450,"v":0.9},{"t":7475,"v":1.33},
{"t":7500,"v":0.55},{"t":7525,"v":1.28},{"t":7550,"v":0.85},{"t":7575,"v":1.22},{"t":7600,"v":0.9},{"t":7625,"v":-1.2},{"t":7650,"v":-0.45},{"t":7675,"v":-1.25},{"t":7700,"v":-0.86},{"t":7725,"v":-1.18},
{"t":7750,"v":-0.9},{"t":7775,"v":-1.4},{"t":7800,"v":-0.83},{"t":7825,"v":-1.22},{"t":7850,"v":-0.92},{"t":7875,"v":-1.15},{"t":7900,"v":-0.78},{"t":7925,"v":-1.28},{"t":7950,"v":-0.88},{"t":7975,"v":-1.2},
{"t":8000,"v":-0.85},{"t":8025,"v":-1.33},{"t":8050,"v":-0.91},{"t":8075,"v":-1.17},{"t":8100,"v":-0.55},{"t":8125,"v":-1.24},{"t":8150,"v":-0.87},{"t":8175,"v":-1.12},{"t":8200,"v":-0.8},{"t":8225,"v":-1.3},
{"t":8250,"v":-0.93},{"t":8275,"v":-1.19},{"t":8300,"v":-0.86},{"t":8325,"v":-1.42},{"t":8350,"v":-0.89},{"t":8375,"v":-1.21},{"t":8400,"v":-0.2},{"t":8425,"v":-1.26},{"t":8450,"v":-0.84},{"t":8475,"v":-1.16},
{"t":8500,"v":-0.9},{"t":8525,"v":-1.23},{"t":8550,"v":-0.76},{"t":8575,"v":-1.29},{"t":8600,"v":-0.88},{"t":8625,"v":-1.18},{"t":8650,"v":-0.5},{"t":8675,"v":-1.25},{"t":8700,"v":-0.92},{"t":8725,"v":-1.14},
{"t":8750,"v":-0.83},{"t":8775,"v":-1.31},{"t":8800,"v":-0.87},{"t":8825,"v":-1.2},{"t":8850,"v":-0.9},{"t":8875,"v":-1.27},{"t":8900,"v":-0.35},{"t":8925,"v":-1.22},{"t":8950,"v":-0.85},{"t":8975,"v":-1.17},
{"t":9000,"v":-0.5},{"t":9025,"v":-1.28},{"t":9050,"v":-0.89},{"t":9075,"v":-1.19},{"t":9100,"v":-0.6},{"t":9125,"v":-1.24},{"t":9150,"v":-0.86},{"t":9175,"v":-1.13},{"t":9200,"v":-0.91},{"t":9225,"v":-1.34},
{"t":9250,"v":-0.3},{"t":9275,"v":-1.21},{"t":9300,"v":-0.88},{"t":9325,"v":-1.4},{"t":9350,"v":-0.84},{"t":9375,"v":-1.18},{"t":9400,"v":-0.92},{"t":9425,"v":-1.26},{"t":9450,"v":-0.45},{"t":9475,"v":-1.2},
{"t":9500,"v":-0.87},{"t":9525,"v":-1.15},{"t":9550,"v":-0.8},{"t":9575,"v":-1.42},{"t":9600,"v":-0.9},{"t":9625,"v":-1.23},{"t":9650,"v":-0.45},{"t":9675,"v":-1.28},{"t":9700,"v":-0.86},{"t":9725,"v":-1.17},
{"t":9750,"v":0.05},{"t":9775,"v":-1.25},{"t":9800,"v":-0.88},{"t":9825,"v":-1.2},{"t":9850,"v":-0.83},{"t":9875,"v":-1.27},{"t":9900,"v":0.75},{"t":9925,"v":1.3},{"t":9950,"v":0.8},{"t":9975,"v":1.28},
{"t":10000,"v":0.85}
],
"d":[
{"t":0,"v":0.9},{"t":25,"v":-0.4},{"t":50,"v":0.6},{"t":75,"v":-0.85},{"t":100,"v":1.05},{"t":125,"v":-0.3},{"t":150,"v":0.45},{"t":175,"v":-1.1},{"t":200,"v":0.75},{"t":225,"v":-0.55},{"t":250,"v":0.3},{"t":275,"v":-0.95},{"t":300,"v":1.2},{"t":325,"v":-0.6},{"t":350,"v":0.55},{"t":375,"v":-0.25},{"t":400,"v":0.85},{"t":425,"v":-1.3},{"t":450,"v":0.4},{"t":475,"v":-0.7},
{"t":500,"v":0.95},{"t":525,"v":-0.5},{"t":550,"v":0.25},{"t":575,"v":-0.8},{"t":600,"v":1.3},{"t":625,"v":-0.45},{"t":650,"v":0.7},{"t":675,"v":-1.05},{"t":700,"v":0.5},{"t":725,"v":-0.35},{"t":750,"v":1.1},{"t":775,"v":-0.9},{"t":800,"v":0.35},{"t":825,"v":-1.45},{"t":850,"v":0.8},{"t":875,"v":-0.6},{"t":900,"v":0.6},{"t":925,"v":-0.2},{"t":950,"v":1.35},{"t":975,"v":-0.75},
{"t":1000,"v":0.45},{"t":1025,"v":-1.0},{"t":1050,"v":0.9},{"t":1075,"v":-0.4},{"t":1100,"v":0.65},{"t":1125,"v":-1.2},{"t":1150,"v":0.3},{"t":1175,"v":-0.65},{"t":1200,"v":1.25},{"t":1225,"v":-0.5},{"t":1250,"v":0.75},{"t":1275,"v":-0.95},{"t":1300,"v":0.4},{"t":1325,"v":-0.3},{"t":1350,"v":1.0},{"t":1375,"v":-1.35},{"t":1400,"v":0.55},{"t":1425,"v":-0.8},{"t":1450,"v":0.2},{"t":1475,"v":-0.55},
{"t":1500,"v":1.15},{"t":1525,"v":-0.7},{"t":1550,"v":0.6},{"t":1575,"v":-1.1},{"t":1600,"v":0.85},{"t":1625,"v":-0.35},{"t":1650,"v":0.35},{"t":1675,"v":-0.9},{"t":1700,"v":1.4},{"t":1725,"v":-0.6},{"t":1750,"v":0.5},{"t":1775,"v":-1.25},{"t":1800,"v":0.7},{"t":1825,"v":-0.45},{"t":1850,"v":0.95},{"t":1875,"v":-1.6},{"t":1900,"v":0.3},{"t":1925,"v":-0.75},{"t":1950,"v":1.05},{"t":1975,"v":-0.4},
{"t":2000,"v":0.5},{"t":2025,"v":-1.05},{"t":2050,"v":0.8},{"t":2075,"v":-0.5},{"t":2100,"v":1.2},{"t":2125,"v":-0.85},{"t":2150,"v":0.4},{"t":2175,"v":-0.3},{"t":2200,"v":0.9},{"t":2225,"v":-1.3},{"t":2250,"v":0.65},{"t":2275,"v":-0.65},{"t":2300,"v":1.3},{"t":2325,"v":-0.95},{"t":2350,"v":0.25},{"t":2375,"v":-0.55},{"t":2400,"v":0.75},{"t":2425,"v":-1.15},{"t":2450,"v":0.55},{"t":2475,"v":-0.35},
{"t":2500,"v":1.1},{"t":2525,"v":-0.8},{"t":2550,"v":0.45},{"t":2575,"v":-1.0},{"t":2600,"v":0.85},{"t":2625,"v":-0.45},{"t":2650,"v":0.6},{"t":2675,"v":-1.4},{"t":2700,"v":1.25},{"t":2725,"v":-0.6},{"t":2750,"v":0.3},{"t":2775,"v":-0.9},{"t":2800,"v":0.95},{"t":2825,"v":-0.25},{"t":2850,"v":0.7},{"t":2875,"v":-1.2},{"t":2900,"v":0.4},{"t":2925,"v":-0.7},{"t":2950,"v":1.15},{"t":2975,"v":-0.5},
{"t":3000,"v":0.65},{"t":3025,"v":-1.05},{"t":3050,"v":0.35},{"t":3075,"v":-0.4},{"t":3100,"v":1.5},{"t":3125,"v":-0.85},{"t":3150,"v":0.8},{"t":3175,"v":-1.3},{"t":3200,"v":0.5},{"t":3225,"v":-0.55},{"t":3250,"v":1.0},{"t":3275,"v":-0.95},{"t":3300,"v":0.3},{"t":3325,"v":-0.7},{"t":3350,"v":0.85},{"t":3375,"v":-1.15},{"t":3400,"v":0.6},{"t":3425,"v":-0.3},{"t":3450,"v":1.2},{"t":3475,"v":-0.8},
{"t":3500,"v":0.4},{"t":3525,"v":-1.25},{"t":3550,"v":0.9},{"t":3575,"v":-0.5},{"t":3600,"v":0.7},{"t":3625,"v":-1.0},{"t":3650,"v":1.35},{"t":3675,"v":-0.65},{"t":3700,"v":0.55},{"t":3725,"v":-0.35},{"t":3750,"v":1.05},{"t":3775,"v":-1.45},{"t":3800,"v":0.35},{"t":3825,"v":-0.8},{"t":3850,"v":0.75},{"t":3875,"v":-0.45},{"t":3900,"v":1.2},{"t":3925,"v":-1.1},{"t":3950,"v":0.5},{"t":3975,"v":-0.6},
{"t":4000,"v":0.95},{"t":4025,"v":-0.9},{"t":4050,"v":0.6},{"t":4075,"v":-1.35},{"t":4100,"v":1.1},{"t":4125,"v":-0.4},{"t":4150,"v":0.3},{"t":4175,"v":-0.75},{"t":4200,"v":0.85},{"t":4225,"v":-1.05},{"t":4250,"v":0.45},{"t":4275,"v":-0.55},{"t":4300,"v":1.3},{"t":4325,"v":-0.85},{"t":4350,"v":0.65},{"t":4375,"v":-1.25},{"t":4400,"v":0.4},{"t":4425,"v":-0.3},{"t":4450,"v":1.0},{"t":4475,"v":-0.7},
{"t":4500,"v":0.7},{"t":4525,"v":-1.15},{"t":4550,"v":1.25},{"t":4575,"v":-0.5},{"t":4600,"v":0.5},{"t":4625,"v":-0.95},{"t":4650,"v":0.85},{"t":4675,"v":-0.35},{"t":4700,"v":1.45},{"t":4725,"v":-1.3},{"t":4750,"v":0.55},{"t":4775,"v":-0.65},{"t":4800,"v":0.35},{"t":4825,"v":-1.0},{"t":4850,"v":1.1},{"t":4875,"v":-0.6},{"t":4900,"v":0.8},{"t":4925,"v":-1.4},{"t":4950,"v":0.45},{"t":4975,"v":-0.45},
{"t":5000,"v":1.55},{"t":5025,"v":-0.8},{"t":5050,"v":0.6},{"t":5075,"v":-1.1},{"t":5100,"v":0.9},{"t":5125,"v":-0.5},{"t":5150,"v":0.35},{"t":5175,"v":-1.2},{"t":5200,"v":1.2},{"t":5225,"v":-0.7},{"t":5250,"v":0.7},{"t":5275,"v":-0.3},{"t":5300,"v":1.0},{"t":5325,"v":-1.35},{"t":5350,"v":0.5},{"t":5375,"v":-0.9},{"t":5400,"v":0.8},{"t":5425,"v":-0.55},{"t":5450,"v":1.3},{"t":5475,"v":-1.05},
{"t":5500,"v":0.4},{"t":5525,"v":-0.65},{"t":5550,"v":0.95},{"t":5575,"v":-1.25},{"t":5600,"v":0.65},{"t":5625,"v":-0.4},{"t":5650,"v":1.15},{"t":5675,"v":-0.85},{"t":5700,"v":0.3},{"t":5725,"v":-1.5},{"t":5750,"v":0.75},{"t":5775,"v":-0.6},{"t":5800,"v":1.35},{"t":5825,"v":-0.95},{"t":5850,"v":0.55},{"t":5875,"v":-0.35},{"t":5900,"v":0.9},{"t":5925,"v":-1.15},{"t":5950,"v":0.45},{"t":5975,"v":-0.75},
{"t":6000,"v":1.05},{"t":6025,"v":-0.5},{"t":6050,"v":0.7},{"t":6075,"v":-1.3},{"t":6100,"v":1.25},{"t":6125,"v":-0.8},{"t":6150,"v":0.4},{"t":6175,"v":-1.0},{"t":6200,"v":0.85},{"t":6225,"v":-0.45},{"t":6250,"v":1.4},{"t":6275,"v":-1.2},{"t":6300,"v":0.6},{"t":6325,"v":-0.7},{"t":6350,"v":0.35},{"t":6375,"v":-1.05},{"t":6400,"v":1.1},{"t":6425,"v":-0.55},{"t":6450,"v":0.8},{"t":6475,"v":-0.9},
{"t":6500,"v":0.5},{"t":6525,"v":-1.35},{"t":6550,"v":1.2},{"t":6575,"v":-0.6},{"t":6600,"v":0.65},{"t":6625,"v":-0.95},{"t":6650,"v":1.45},{"t":6675,"v":-0.4},{"t":6700,"v":0.3},{"t":6725,"v":-1.15},{"t":6750,"v":0.9},{"t":6775,"v":-0.75},{"t":6800,"v":1.05},{"t":6825,"v":-1.25},{"t":6850,"v":0.55},{"t":6875,"v":-0.5},{"t":6900,"v":1.3},{"t":6925,"v":-0.85},{"t":6950,"v":0.45},{"t":6975,"v":-1.05},
{"t":7000,"v":0.85},{"t":7025,"v":-0.65},{"t":7050,"v":1.15},{"t":7075,"v":-1.4},{"t":7100,"v":0.6},{"t":7125,"v":-0.35},{"t":7150,"v":0.95},{"t":7175,"v":-0.9},{"t":7200,"v":1.35},{"t":7225,"v":-1.1},{"t":7250,"v":0.4},{"t":7275,"v":-0.6},{"t":7300,"v":0.75},{"t":7325,"v":-1.3},{"t":7350,"v":1.1},{"t":7375,"v":-0.45},{"t":7400,"v":0.5},{"t":7425,"v":-0.8},{"t":7450,"v":1.25},{"t":7475,"v":-1.0},
{"t":7500,"v":0.7},{"t":7525,"v":-1.2},{"t":7550,"v":0.35},{"t":7575,"v":-0.55},{"t":7600,"v":1.0},{"t":7625,"v":-0.95},{"t":7650,"v":0.8},{"t":7675,"v":-1.45},{"t":7700,"v":1.3},{"t":7725,"v":-0.7},{"t":7750,"v":0.55},{"t":7775,"v":-1.05},{"t":7800,"v":0.9},{"t":7825,"v":-0.4},{"t":7850,"v":1.2},{"t":7875,"v":-0.85},{"t":7900,"v":0.45},{"t":7925,"v":-1.25},{"t":7950,"v":0.65},{"t":7975,"v":-0.5},
{"t":8000,"v":1.5},{"t":8025,"v":-1.5},{"t":8050,"v":0.6},{"t":8075,"v":-0.75},{"t":8100,"v":0.95},{"t":8125,"v":-1.1},{"t":8150,"v":0.4},{"t":8175,"v":-0.6},{"t":8200,"v":1.15},{"t":8225,"v":-1.3},{"t":8250,"v":0.8},{"t":8275,"v":-0.45},{"t":8300,"v":1.05},{"t":8325,"v":-0.9},{"t":8350,"v":0.3},{"t":8375,"v":-1.2},{"t":8400,"v":1.35},{"t":8425,"v":-0.65},{"t":8450,"v":0.7},{"t":8475,"v":-1.0},
{"t":8500,"v":0.55},{"t":8525,"v":-0.8},{"t":8550,"v":1.55},{"t":8575,"v":-1.35},{"t":8600,"v":0.9},{"t":8625,"v":-0.5},{"t":8650,"v":0.65},{"t":8675,"v":-1.15},{"t":8700,"v":1.2},{"t":8725,"v":-0.7},{"t":8750,"v":0.4},{"t":8775,"v":-0.95},{"t":8800,"v":1.0},{"t":8825,"v":-1.4},{"t":8850,"v":0.75},{"t":8875,"v":-0.55},{"t":8900,"v":1.25},{"t":8925,"v":-1.05},{"t":8950,"v":0.5},{"t":8975,"v":-0.85},
{"t":9000,"v":0.95},{"t":9025,"v":-1.25},{"t":9050,"v":0.6},{"t":9075,"v":-0.4},{"t":9100,"v":1.4},{"t":9125,"v":-1.1},{"t":9150,"v":0.8},{"t":9175,"v":-0.75},{"t":9200,"v":0.45},{"t":9225,"v":-1.3},{"t":9250,"v":1.1},{"t":9275,"v":-0.6},{"t":9300,"v":0.7},{"t":9325,"v":-0.95},{"t":9350,"v":1.3},{"t":9375,"v":-1.45},{"t":9400,"v":0.55},{"t":9425,"v":-0.8},{"t":9450,"v":1.05},{"t":9475,"v":-0.5},
{"t":9500,"v":0.4},{"t":9525,"v":-1.15},{"t":9550,"v":1.2},{"t":9575,"v":-0.9},{"t":9600,"v":0.85},{"t":9625,"v":-1.35},{"t":9650,"v":0.6},{"t":9675,"v":-0.55},{"t":9700,"v":1.45},{"t":9725,"v":-1.0},{"t":9750,"v":0.75},{"t":9775,"v":-1.25},{"t":9800,"v":0.95},{"t":9825,"v":-0.7},{"t":9850,"v":1.1},{"t":9875,"v":-1.4},{"t":9900,"v":0.5},{"t":9925,"v":-0.85},{"t":9950,"v":1.35},{"t":9975,"v":-1.2},
{"t":10000,"v":0.8}
]
},
"columns":2,
"spacing":{"row":69,"column":99},
"bounds":"flush",
"resolve":{"scale":{"x":"independent","y":"independent","color":"independent"}},
"concat":[
{
 "width":291,"height":231,
 "title":{"text":"A","dx":-58,"offset":13},
 "data":{"name":"a"},
 "layer":[
  {"mark":{"type":"line","interpolate":"catmull-rom","strokeWidth":1,"clip":true},
   "encoding":{
    "x":{"field":"x","type":"quantitative","scale":{"domain":[-1.7,1.7],"nice":false,"zero":false},
      "axis":{"title":"x","values":[-1.5,-1,-0.5,0,0.5,1,1.5],"labelExpr":"replace(format(datum.value,'~g'),'\u2212','-')","labelPadding":14.5,"titleX":146.7,"titleY":49}},
    "y":{"field":"y","type":"quantitative","scale":{"domain":[-1.7,1.7],"nice":false,"zero":false},
      "axis":{"title":"y","values":[-1.5,-1,-0.5,0,0.5,1,1.5],"labelExpr":"replace(format(datum.value,'~g'),'\u2212','-')","labelPadding":12.3,"titleX":-44,"titleY":116}},
    "color":{"field":"c","type":"nominal","legend":null,
      "scale":{"domain":["k1","k2","k3","k4","k5","k6","k7","sR","sL","nR","nL","e1","e2","e3","w1R","w2R","w3R","w4R","w1L","w2L","w3L","w4L"],
               "range":["#5c5c5c","#6d6d6d","#808080","#939393","#a6a6a6","#b6b6b6","#c4c4c4","#9a9a9a","#9a9a9a","#bdbdbd","#bdbdbd","#dcdcdc","#e4e4e4","#eaeaea","#444444","#505050","#5f5f5f","#858585","#444444","#505050","#5f5f5f","#858585"]}},
    "order":{"value":null}
   }},
  {"mark":{"type":"point","opacity":0},
   "encoding":{
    "x":{"field":"x","type":"quantitative","scale":{"domain":[-1.7,1.7],"nice":false,"zero":false},"axis":{"orient":"top","values":[-1.5,-1,-0.5,0,0.5,1,1.5],"labels":false,"title":null}},
    "y":{"field":"y","type":"quantitative","scale":{"domain":[-1.7,1.7],"nice":false,"zero":false},"axis":{"orient":"right","values":[-1.5,-1,-0.5,0,0.5,1,1.5],"labels":false,"title":null}}
   }}
 ],
 "resolve":{"scale":{"x":"independent","y":"independent"}}
},
{
 "width":314,"height":225,
 "title":{"text":"C","dx":-52,"offset":6},
 "data":{"name":"c"},
 "layer":[
  {"layer":[
   {"data":{"name":"cc"},"mark":{"type":"rect","color":"#000"},
    "encoding":{
     "x":{"field":"t","type":"quantitative","scale":{"domain":[0,10000],"nice":false,"zero":false},
       "axis":{"title":"Time","values":[0,1000,2000,3000,4000,5000,6000,7000,8000,9000,10000],"labelExpr":"datum.value % 2000 == 0 ? format(datum.value,'d') : ''","labelPadding":12,"titleX":161.7,"titleY":57,"titleFontSize":21}},
     "x2":{"field":"t2"},
     "y":{"field":"v","type":"quantitative","scale":{"domain":[-1.6,1.65],"nice":false,"zero":false},
       "axis":{"title":"x","values":[-1.5,-1,-0.5,0,0.5,1,1.5],"labelExpr":"datum.value == 0 ? '0' : replace(format(datum.value,'.1f'),'\u2212','-')","labelPadding":10,"titleX":-40,"titleY":114}},
     "y2":{"field":"v2"}
    }},
   {"mark":{"type":"line","color":"#000","strokeWidth":1},
    "encoding":{
     "x":{"field":"t","type":"quantitative","scale":{"domain":[0,10000],"nice":false,"zero":false},
       "axis":{"title":"Time","values":[0,1000,2000,3000,4000,5000,6000,7000,8000,9000,10000],"labelExpr":"datum.value % 2000 == 0 ? format(datum.value,'d') : ''","labelPadding":12,"titleX":161.7,"titleY":57,"titleFontSize":21}},
     "y":{"field":"v","type":"quantitative","scale":{"domain":[-1.6,1.65],"nice":false,"zero":false},
       "axis":{"title":"x","values":[-1.5,-1,-0.5,0,0.5,1,1.5],"labelExpr":"datum.value == 0 ? '0' : replace(format(datum.value,'.1f'),'\u2212','-')","labelPadding":10,"titleX":-40,"titleY":114}}
    }}
  ]},
  {"mark":{"type":"point","opacity":0},
   "encoding":{
    "x":{"field":"t","type":"quantitative","scale":{"domain":[0,10000],"nice":false,"zero":false},"axis":{"orient":"top","values":[0,1000,2000,3000,4000,5000,6000,7000,8000,9000,10000],"labels":false,"title":null}},
    "y":{"field":"v","type":"quantitative","scale":{"domain":[-1.6,1.65],"nice":false,"zero":false},"axis":{"orient":"right","values":[-1.5,-1,-0.5,0,0.5,1,1.5],"labels":false,"title":null}}
   }}
 ],
 "resolve":{"scale":{"x":"independent","y":"independent"}}
},
{
 "width":291,"height":231,
 "title":{"text":"B","dx":-59,"offset":5},
 "data":{"name":"b"},
 "layer":[
  {"mark":{"type":"line","interpolate":"catmull-rom","strokeWidth":1,"clip":true},
   "encoding":{
    "x":{"field":"x","type":"quantitative","scale":{"domain":[-1.64,1.74],"nice":false,"zero":false},
      "axis":{"title":"x","values":[-1.5,-1,-0.5,0,0.5,1,1.5],"labelExpr":"replace(format(datum.value,'~g'),'\u2212','-')","labelPadding":14.5,"titleX":148,"titleY":46}},
    "y":{"field":"y","type":"quantitative","scale":{"domain":[-1.63,1.74],"nice":false,"zero":false},
      "axis":{"title":"y","values":[-1.5,-1,-0.5,0,0.5,1,1.5],"labelExpr":"replace(format(datum.value,'~g'),'\u2212','-')","labelPadding":11.7,"titleX":-43,"titleY":115}},
    "color":{"field":"c","type":"nominal","legend":null,
      "scale":{"domain":["D1","D2","D3","D4","D1b","D2b","D3b","D4b","r1","r2","r3","r4","r5","r6","r7","r8","l1","l2","l3","l4","l5","l6","l7","l8","C1","C2","K1","K2","E","O"],
               "range":["#4d4d4d","#5f5f5f","#727272","#9a9a9a","#4d4d4d","#5f5f5f","#727272","#9a9a9a","#cfcfcf","#c0c0c0","#b0b0b0","#a0a0a0","#8f8f8f","#7d7d7d","#6a6a6a","#585858","#cfcfcf","#c0c0c0","#b0b0b0","#a0a0a0","#8f8f8f","#7d7d7d","#6a6a6a","#585858","#cfcfcf","#d6d6d6","#d2d2d2","#d2d2d2","#dedede","#e4e4e4"]}},
    "order":{"value":null}
   }},
  {"mark":{"type":"point","opacity":0},
   "encoding":{
    "x":{"field":"x","type":"quantitative","scale":{"domain":[-1.64,1.74],"nice":false,"zero":false},"axis":{"orient":"top","values":[-1.5,-1,-0.5,0,0.5,1,1.5],"labels":false,"title":null}},
    "y":{"field":"y","type":"quantitative","scale":{"domain":[-1.63,1.74],"nice":false,"zero":false},"axis":{"orient":"right","values":[-1.5,-1,-0.5,0,0.5,1,1.5],"labels":false,"title":null}}
   }}
 ],
 "resolve":{"scale":{"x":"independent","y":"independent"}}
},
{
 "width":315,"height":224,
 "title":{"text":"D","dx":-52,"offset":5},
 "data":{"name":"d"},
 "layer":[
  {"layer":[
   {"data":{"name":"dc"},"mark":{"type":"rect","color":"#000"},
    "encoding":{
     "x":{"field":"t","type":"quantitative","scale":{"domain":[0,10000],"nice":false,"zero":false},
       "axis":{"title":"Time","values":[0,1000,2000,3000,4000,5000,6000,7000,8000,9000,10000],"labelExpr":"datum.value % 2000 == 0 ? format(datum.value,'d') : ''","labelPadding":16.5,"titleX":160.8,"titleY":51,"titleFontSize":21}},
     "x2":{"field":"t2"},
     "y":{"field":"v","type":"quantitative","scale":{"domain":[-1.6,1.72],"nice":false,"zero":false},
       "axis":{"title":"x","values":[-1.5,-1,-0.5,0,0.5,1,1.5],"labelExpr":"datum.value == 0 ? '0' : replace(format(datum.value,'.1f'),'\u2212','-')","labelPadding":11,"titleX":-38.3,"titleY":117}},
     "y2":{"field":"v2"}
    }},
   {"mark":{"type":"line","color":"#000","strokeWidth":1.1},
    "encoding":{
     "x":{"field":"t","type":"quantitative","scale":{"domain":[0,10000],"nice":false,"zero":false},
       "axis":{"title":"Time","values":[0,1000,2000,3000,4000,5000,6000,7000,8000,9000,10000],"labelExpr":"datum.value % 2000 == 0 ? format(datum.value,'d') : ''","labelPadding":16.5,"titleX":160.8,"titleY":51,"titleFontSize":21}},
     "y":{"field":"v","type":"quantitative","scale":{"domain":[-1.6,1.72],"nice":false,"zero":false},
       "axis":{"title":"x","values":[-1.5,-1,-0.5,0,0.5,1,1.5],"labelExpr":"datum.value == 0 ? '0' : replace(format(datum.value,'.1f'),'\u2212','-')","labelPadding":11,"titleX":-38.3,"titleY":117}}
    }}
  ]},
  {"mark":{"type":"point","opacity":0},
   "encoding":{
    "x":{"field":"t","type":"quantitative","scale":{"domain":[0,10000],"nice":false,"zero":false},"axis":{"orient":"top","values":[0,1000,2000,3000,4000,5000,6000,7000,8000,9000,10000],"labels":false,"title":null}},
    "y":{"field":"v","type":"quantitative","scale":{"domain":[-1.6,1.72],"nice":false,"zero":false},"axis":{"orient":"right","values":[-1.5,-1,-0.5,0,0.5,1,1.5],"labels":false,"title":null}}
   }}
 ],
 "resolve":{"scale":{"x":"independent","y":"independent"}}
}
]
}
